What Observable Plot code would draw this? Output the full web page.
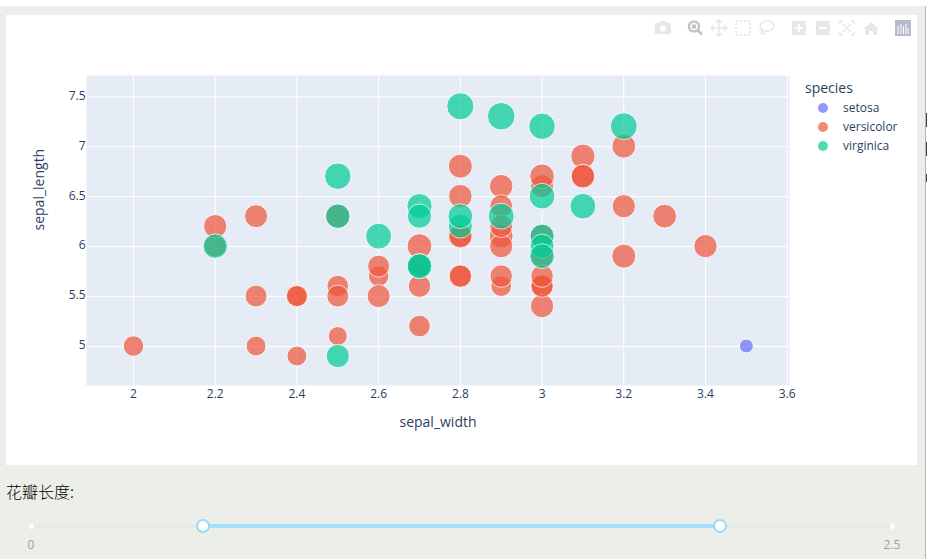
<!DOCTYPE html>
<html>
<head>
<meta charset="utf-8">
<script src="https://cdn.jsdelivr.net/npm/d3@7"></script>
<script src="https://cdn.jsdelivr.net/npm/@observablehq/plot@0.6"></script>
<style>
html,body{margin:0;padding:0;background:#fff;overflow:hidden}
#page{position:absolute;left:0;top:6px;width:925px;height:553px;background:#eceee9;border-right:1px solid #b5b5b5}
#panel{position:absolute;left:6px;top:15px;width:911px;height:450px;background:#fff}
#panel svg{position:absolute;left:0;top:0;display:block}
#modebar{position:absolute;left:0;top:0;pointer-events:none}
.lg{position:absolute;font-family:"Open Sans",sans-serif;color:#2a3f5f;white-space:nowrap}
.sw{position:absolute;width:10px;height:10px;border-radius:50%;opacity:.7}
#label{position:absolute;left:6px;top:481px;font:300 16px/20px "Noto Sans CJK SC",sans-serif;color:#000}
.rail{position:absolute;top:524px;height:4px;border-radius:2px}
.handle{position:absolute;top:519px;width:10px;height:10px;border:2px solid #96dbfa;background:#fff;border-radius:50%}
.end{position:absolute;top:523.5px;width:5px;height:5px;border-radius:50%;background:#fff}
.tick{position:absolute;top:536px;font:12px/18px "Open Sans",sans-serif;color:#a0a0a0;transform:translateX(-50%)}
.frag{position:absolute;left:926px;width:1px;background:#444}
</style>
</head>
<body>
<div id="page"></div>
<div id="panel"></div>
<div class="frag" style="top:113px;height:14px"></div>
<div class="frag" style="top:142px;height:14px"></div>
<div class="frag" style="top:174px;height:8px"></div>
<div id="label">花瓣长度:</div>
<div class="rail" style="left:31px;width:861px;background:#e9e9e9"></div>
<div class="rail" style="left:203px;width:517px;background:#a8dffa"></div>
<div class="end" style="left:28.5px"></div>
<div class="end" style="left:889.5px"></div>
<div class="handle" style="left:196px"></div>
<div class="handle" style="left:713px"></div>
<div class="tick" style="left:31px">0</div>
<div class="tick" style="left:892px">2.5</div>
<script>
const speciesNames = ["setosa", "versicolor", "virginica"];
const speciesColors = ["#636efa", "#EF553B", "#00cc96"];
const xTicks = [2, 2.2, 2.4, 2.6, 2.8, 3, 3.2, 3.4, 3.6];
const yTicks = [5, 5.5, 6, 6.5, 7, 7.5];

const setosaWidth = [3.5];
const setosaLength = [5.0];
const setosaPetal = [1.6];

const versicolorWidth = [3.2,3.2,3.1,2.3,2.8,2.8,3.3,2.4,2.9,2.7,2.0,3.0,2.2,2.9,2.9,3.1,3.0,2.7,2.2,2.5,3.2,2.8,2.5,2.8,2.9,3.0,2.8,3.0,2.9,2.6,2.4,2.4,2.7,2.7,3.0,3.4,3.1,2.3,3.0,2.5,2.6,3.0,2.6,2.3,2.7,3.0,2.9,2.9,2.5,2.8];
const versicolorLength = [7.0,6.4,6.9,5.5,6.5,5.7,6.3,4.9,6.6,5.2,5.0,5.9,6.0,6.1,5.6,6.7,5.6,5.8,6.2,5.6,5.9,6.1,6.3,6.1,6.4,6.6,6.8,6.7,6.0,5.7,5.5,5.5,5.8,6.0,5.4,6.0,6.7,6.3,5.6,5.5,5.5,6.1,5.8,5.0,5.6,5.7,5.7,6.2,5.1,5.7];
const versicolorPetal = [4.7,4.5,4.9,4.0,4.6,4.5,4.7,3.3,4.6,3.9,3.5,4.2,4.0,4.7,3.6,4.4,4.5,4.1,4.5,3.9,4.8,4.0,4.9,4.7,4.3,4.4,4.8,5.0,4.5,3.5,3.8,3.7,3.9,5.1,4.5,4.5,4.7,4.4,4.1,4.0,4.4,4.6,4.0,3.3,4.2,4.2,4.2,4.3,3.0,4.1];

const virginicaWidth = [2.7,2.9,2.5,2.9,2.5,2.7,3.0,2.2,2.7,3.2,2.8,3.0,3.0,2.8,2.8,2.6,3.1,3.0,2.7,2.5,3.0];
const virginicaLength = [5.8,6.3,4.9,7.3,6.7,6.4,6.5,6.0,6.3,7.2,6.2,6.1,7.2,7.4,6.3,6.1,6.4,6.0,5.8,6.3,5.9];
const virginicaPetal = [5.1,5.6,4.5,6.3,5.8,5.3,5.5,5.0,4.9,6.0,4.8,4.9,5.8,6.1,5.1,5.6,5.5,4.8,5.1,5.0,5.1];

const toRows = (species, w, l, p) => w.map((v, i) => ({species, sepal_width: v, sepal_length: l[i], petal_length: p[i]}));
const rows = [
  ...toRows("setosa", setosaWidth, setosaLength, setosaPetal),
  ...toRows("versicolor", versicolorWidth, versicolorLength, versicolorPetal),
  ...toRows("virginica", virginicaWidth, virginicaLength, virginicaPetal)
];

const font = '"Open Sans", sans-serif';
const ink = "#2a3f5f";
const chart = Plot.plot({
  width: 911, height: 450,
  marginLeft: 80, marginRight: 128, marginTop: 60, marginBottom: 80,
  style: {background: "transparent", fontFamily: font, color: ink},
  x: {domain: [1.885, 3.6056], label: null},
  y: {domain: [4.61, 7.713], label: null},
  r: {domain: [0, 6.3], range: [0, 13.8]},
  color: {domain: speciesNames, range: speciesColors},
  marks: [
    Plot.frame({fill: "#E5ECF6", stroke: null}),
    Plot.gridX(xTicks, {stroke: "#fff", strokeOpacity: 1, strokeWidth: 1}),
    Plot.gridY(yTicks, {stroke: "#fff", strokeOpacity: 1, strokeWidth: 1}),
    Plot.axisX(xTicks, {tickSize: 0, tickPadding: 4, fontSize: 12, fill: ink, tickFormat: d => String(d), label: null}),
    Plot.axisY(yTicks, {tickSize: 0, tickPadding: 1, dy: -1, fontSize: 12, fill: ink, tickFormat: d => String(d), label: null}),
    Plot.dot(rows, {x: "sepal_width", y: "sepal_length", r: "petal_length", fill: "species", stroke: "#fff", strokeWidth: 1, opacity: 0.7, sort: null, dy: -0.5}),
    Plot.text(["sepal_width"], {frameAnchor: "bottom", dy: 41, fontSize: 14, fill: ink}),
    Plot.text(["sepal_length"], {frameAnchor: "left", rotate: -90, dx: -47, fontSize: 14, fill: ink})
  ]
});
document.getElementById("panel").appendChild(chart);

// legend
const panel = document.getElementById("panel");
const title = document.createElement("div");
title.className = "lg"; title.textContent = "species";
title.style.cssText = "left:799px;top:63px;font-size:14px;line-height:20px";
panel.appendChild(title);
speciesNames.forEach((s, i) => {
  const sw = document.createElement("div");
  sw.className = "sw";
  sw.style.cssText = `left:812px;top:${88 + i * 19}px;background:${speciesColors[i]}`;
  panel.appendChild(sw);
  const t = document.createElement("div");
  t.className = "lg"; t.textContent = s;
  t.style.cssText = `left:837px;top:${84 + i * 19}px;font-size:12px;line-height:18px`;
  panel.appendChild(t);
});

// modebar
const off = "rgba(68,68,68,0.13)";
panel.insertAdjacentHTML("beforeend", `
<svg id="modebar" width="911" height="40" style="left:0;top:0">
  <g fill="${off}">
    <path d="M649 8h4l1.500-2h5l1.500 2h4v11h-16z"/><circle cx="657" cy="13.500" r="3" fill="#fff"/>
    <rect x="786" y="6" width="14" height="14"/><rect x="810" y="6" width="14" height="14"/>
    <path d="M865 7l8 7h-2v6h-4v-4h-4v4h-4v-6h-2z"/>
  </g>
  <rect x="789" y="12" width="8" height="2" fill="#fff"/><rect x="792" y="9" width="2" height="8" fill="#fff"/>
  <rect x="813" y="12" width="8" height="2" fill="#fff"/>
  <circle cx="688" cy="11.500" r="5" fill="none" stroke="#c3c3c3" stroke-width="2.500"/>
  <rect x="686" y="9.500" width="4" height="4" fill="#c3c3c3"/>
  <path d="M692 15.500l4 4" stroke="#c3c3c3" stroke-width="2.500"/>
  <path d="M713 5v16M705 13h16M710 8l3-3 3 3M710 18l3 3 3-3M708 10l-3 3 3 3M718 10l3 3-3 3" fill="none" stroke="${off}" stroke-width="1.600"/>
  <rect x="730" y="6" width="14" height="14" fill="none" stroke="${off}" stroke-width="2" stroke-dasharray="2 2"/>
  <ellipse cx="761" cy="11" rx="7" ry="5" fill="none" stroke="${off}" stroke-width="1.500" transform="rotate(-10 761 11)"/>
  <path d="M756 15c-2 3 1 5 3 3" fill="none" stroke="${off}" stroke-width="1.500"/>
  <path d="M834 9V6h3M845 6h3v3M848 17v3h-3M837 20h-3v-3M837 9l8 8M845 9l-8 8" fill="none" stroke="${off}" stroke-width="1.300"/>
  <rect x="889" y="5" width="16" height="16" fill="#b3bbcc"/>
  <path d="M892 11v8M895 9v10M897.500 11v8M900 9v10M902 13v6" stroke="#fff" stroke-width="1"/>
</svg>`);
</script>
</body>
</html>
